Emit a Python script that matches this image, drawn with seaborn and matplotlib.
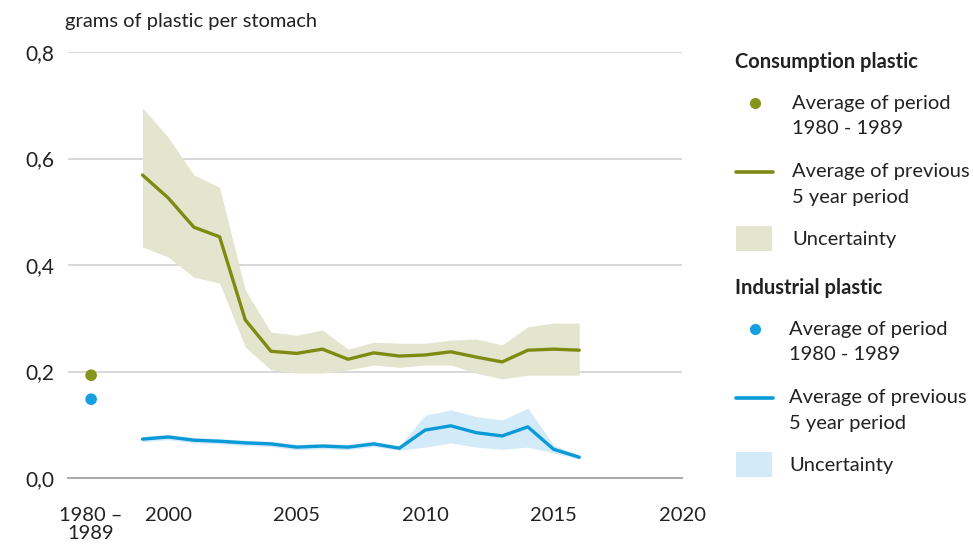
import matplotlib
matplotlib.use("Agg")
import matplotlib.pyplot as plt
import numpy as np
import pandas as pd
import seaborn as sns
from matplotlib.lines import Line2D
from matplotlib.patches import Rectangle

# data
years = list(range(1999, 2017))
consumption_avg = [0.569, 0.526, 0.471, 0.453, 0.297, 0.238, 0.234, 0.242, 0.223,
                   0.235, 0.229, 0.231, 0.237, 0.227, 0.218, 0.240, 0.242, 0.240]
consumption_low = [0.434, 0.415, 0.377, 0.366, 0.246, 0.203, 0.197, 0.197, 0.203,
                   0.212, 0.208, 0.212, 0.212, 0.197, 0.186, 0.193, 0.193, 0.193]
consumption_high = [0.695, 0.640, 0.569, 0.546, 0.353, 0.274, 0.268, 0.278, 0.242,
                    0.255, 0.253, 0.253, 0.259, 0.261, 0.250, 0.284, 0.291, 0.291]
industrial_avg = [0.073, 0.077, 0.071, 0.069, 0.066, 0.064, 0.058, 0.060, 0.058,
                  0.064, 0.056, 0.090, 0.098, 0.085, 0.079, 0.096, 0.054, 0.039]
industrial_low = [0.068, 0.072, 0.066, 0.064, 0.061, 0.059, 0.053, 0.055, 0.053,
                  0.059, 0.052, 0.058, 0.066, 0.058, 0.054, 0.058, 0.047, 0.036]
industrial_high = [0.078, 0.082, 0.076, 0.074, 0.071, 0.069, 0.063, 0.065, 0.063,
                   0.069, 0.060, 0.118, 0.128, 0.115, 0.109, 0.131, 0.062, 0.043]
period_pos = 1997  # where the 1980-1989 category sits on the axis
consumption_1980s = 0.193
industrial_1980s = 0.148

xtick_pos = [period_pos, 2000, 2005, 2010, 2015, 2020]
xtick_labels = ["1980 –\n1989", "2000", "2005", "2010", "2015", "2020"]
ytick_pos = [0.0, 0.2, 0.4, 0.6, 0.8]
ytick_labels = ["0,0", "0,2", "0,4", "0,6", "0,8"]

GREEN = "#7e8b12"
GREEN_DOT = "#84951a"
GREEN_BAND = "#e4e5cf"
BLUE = "#0a9ad8"
BLUE_DOT = "#159fe0"
BLUE_BAND = "#d3eaf8"
TEXT = "#222222"

df = pd.DataFrame({
    "year": years,
    "consumption": consumption_avg,
    "industrial": industrial_avg,
})
dots = pd.DataFrame({
    "x": [period_pos, period_pos],
    "y": [consumption_1980s, industrial_1980s],
    "kind": ["consumption", "industrial"],
})

sns.set_style("white")
plt.rcParams["font.family"] = ["Lato", "DejaVu Sans"]

W, H = 973, 546
fig = plt.figure(figsize=(W / 100, H / 100), dpi=100)


def fx(px):
    return px / W


def fy(py):
    return 1 - py / H


ax = fig.add_axes([fx(68), fy(478), (682 - 68) / W, (478 - 52) / H])

ax.fill_between(years, consumption_low, consumption_high, color=GREEN_BAND, lw=0, zorder=1)
ax.fill_between(years, industrial_low, industrial_high, color=BLUE_BAND, lw=0, zorder=1)
sns.lineplot(data=df, x="year", y="consumption", color=GREEN, lw=2.4, ax=ax, zorder=3)
sns.lineplot(data=df, x="year", y="industrial", color=BLUE, lw=2.4, ax=ax, zorder=3)
sns.scatterplot(data=dots, x="x", y="y", hue="kind", palette=[GREEN_DOT, BLUE_DOT],
                s=70, edgecolor="none", legend=False, ax=ax, zorder=4)

ax.set_xlim(1996.1, 2020)
ax.set_ylim(0, 0.8)
ax.set_xticks(xtick_pos)
ax.set_xticklabels(xtick_labels, fontsize=14.5, color=TEXT, linespacing=1.05)
ax.set_yticks(ytick_pos)
ax.set_yticklabels(ytick_labels, fontsize=15, color=TEXT)
ax.set_xlabel("")
ax.set_ylabel("")
ax.yaxis.grid(True, color="#d8d8d8", lw=1.4)
ax.set_axisbelow(True)
for side in ["top", "right", "left"]:
    ax.spines[side].set_visible(False)
ax.spines["bottom"].set_color("#a8a8a8")
ax.spines["bottom"].set_linewidth(1.4)
ax.tick_params(axis="x", direction="out", length=10, width=1.4, color="#a8a8a8", pad=11)
ax.tick_params(axis="y", length=0, pad=10)

fig.text(fx(65), fy(22), "grams of plastic per stomach", fontsize=14.5,
         color=TEXT, va="center", ha="left")

# legend, laid out like the original (key aligned with the first label line)
def legend_group(title, title_y, dot_color, line_color, band_color, x_text):
    fig.text(fx(735), fy(title_y), title, fontsize=14.5, weight="bold",
             color=TEXT, va="center", ha="left")
    y0 = title_y + 41
    fig.add_artist(Line2D([fx(755)], [fy(y0)], marker="o", ls="", color=dot_color,
                          markersize=7, transform=fig.transFigure))
    fig.text(fx(x_text), fy(y0), "Average of period", fontsize=14.5, color=TEXT, va="center")
    fig.text(fx(x_text), fy(y0 + 26), "1980 - 1989", fontsize=14.5, color=TEXT, va="center")
    y1 = title_y + 110
    fig.add_artist(Line2D([fx(736), fx(773)], [fy(y1), fy(y1)], color=line_color, lw=2.6,
                          transform=fig.transFigure))
    fig.text(fx(x_text), fy(y1), "Average of previous", fontsize=14.5, color=TEXT, va="center")
    fig.text(fx(x_text), fy(y1 + 26), "5 year period", fontsize=14.5, color=TEXT, va="center")
    y2 = title_y + 177
    fig.add_artist(Rectangle((fx(736), fy(y2 + 12)), 36 / W, 25 / H, color=band_color,
                             lw=0, transform=fig.transFigure))
    fig.text(fx(x_text), fy(y2), "Uncertainty", fontsize=14.5, color=TEXT, va="center")


legend_group("Consumption plastic", 62, GREEN_DOT, GREEN, GREEN_BAND, 792)
legend_group("Industrial plastic", 288, BLUE_DOT, BLUE, BLUE_BAND, 789)

fig.savefig("out.png", dpi=100)
